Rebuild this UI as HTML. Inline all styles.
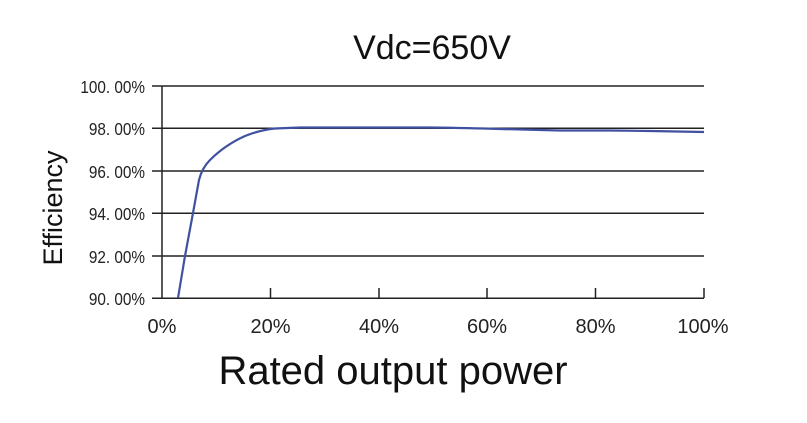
<!DOCTYPE html>
<html><head><meta charset="utf-8"><style>body{margin:0;background:#fff}</style></head><body>
<svg width="807" height="418" xmlns="http://www.w3.org/2000/svg" font-family="Liberation Sans, sans-serif">
<rect width="807" height="418" fill="#fff"/>
<text x="432" y="59" font-size="34" text-anchor="middle" fill="#111">Vdc=650V</text>
<g stroke="#222" stroke-width="1.5">
<line x1="152" y1="86" x2="704" y2="86"/>
<line x1="152" y1="128.3" x2="704" y2="128.3"/>
<line x1="152" y1="171" x2="704" y2="171"/>
<line x1="152" y1="213.3" x2="704" y2="213.3"/>
<line x1="152" y1="256" x2="704" y2="256"/>
<line x1="152" y1="298.3" x2="704" y2="298.3"/>
<line x1="162" y1="86" x2="162" y2="298.3"/>
<line x1="270.5" y1="288" x2="270.5" y2="298"/>
<line x1="379" y1="288" x2="379" y2="298"/>
<line x1="487" y1="288" x2="487" y2="298"/>
<line x1="595.5" y1="288" x2="595.5" y2="298"/>
<line x1="704" y1="288" x2="704" y2="298"/>
</g>
<g font-size="18" fill="#222" text-anchor="end" transform="translate(145,0) scale(0.85,1)">
<text x="0" y="93">100. 00%</text>
<text x="0" y="135">98. 00%</text>
<text x="0" y="178">96. 00%</text>
<text x="0" y="220">94. 00%</text>
<text x="0" y="263">92. 00%</text>
<text x="0" y="305">90. 00%</text>
</g>
<g font-size="20" fill="#222" text-anchor="middle">
<text x="162" y="333">0%</text>
<text x="270.5" y="333">20%</text>
<text x="379" y="333">40%</text>
<text x="487" y="333">60%</text>
<text x="595.5" y="333">80%</text>
<text x="703" y="333">100%</text>
</g>
<path d="M178,298 L185,256 L193,213 L199,180 Q202,168 210,160 Q225,145 245,136 Q260,130 275,128.5 L300,127.5 L430,127.5 Q470,128 500,129 L560,130.5 L610,130.5 L650,131 L704,132" fill="none" stroke="#3f51a0" stroke-width="2.2"/>
<text x="393" y="384" font-size="40" text-anchor="middle" fill="#111">Rated output power</text>
<text transform="translate(62,208) rotate(-90)" font-size="27" text-anchor="middle" fill="#111">Efficiency</text>
</svg>
</body></html>
